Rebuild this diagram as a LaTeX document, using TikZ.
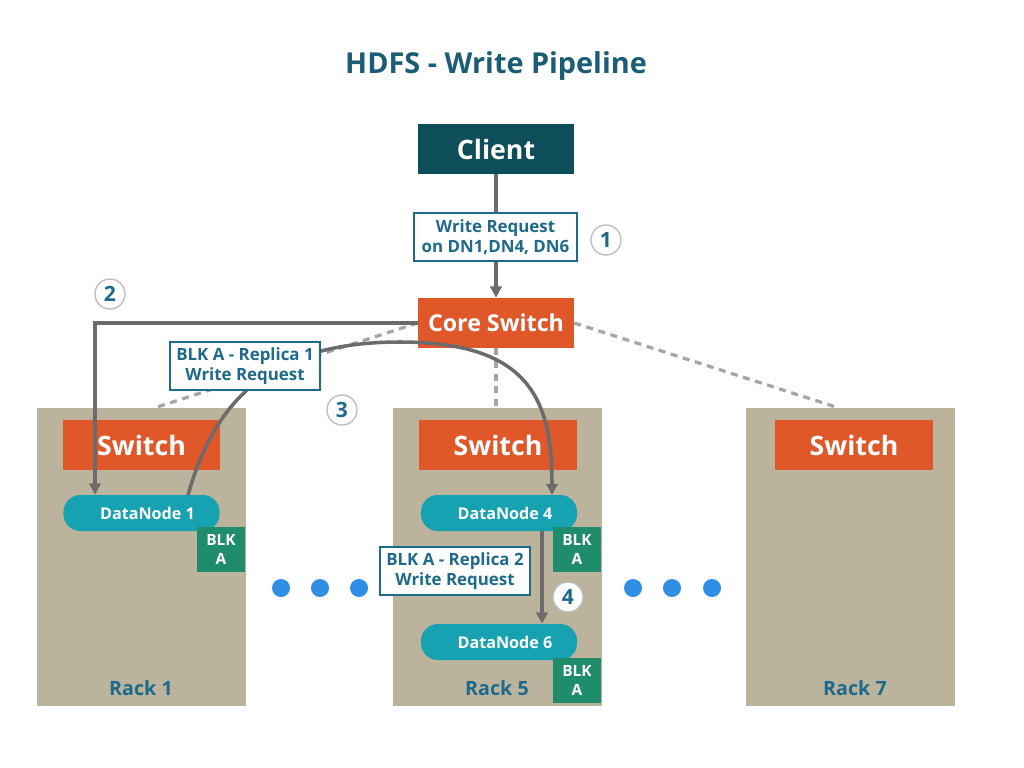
\documentclass[tikz,border=0pt]{standalone}
\usepackage{fontspec}
\setmainfont{Open Sans}
\usetikzlibrary{arrows.meta,calc}
\definecolor{clientc}{HTML}{0E4D5A}
\definecolor{orangec}{HTML}{E0582A}
\definecolor{rackc}{HTML}{BCB39C}
\definecolor{dnc}{HTML}{17A2B2}
\definecolor{blkc}{HTML}{1F8C6B}
\definecolor{labc}{HTML}{1D6A8C}
\definecolor{titlec}{HTML}{1B5D74}
\definecolor{dotc}{HTML}{2F8EE5}
\definecolor{arrc}{HTML}{6B6B6B}
\definecolor{dashc}{HTML}{A5A5A5}
\tikzset{
  boxdark/.style={fill=clientc, text=white, font=\bfseries\fontsize{19}{22}\selectfont, minimum width=3.9cm, minimum height=1.25cm, inner sep=0pt},
  orangebox/.style={fill=orangec, text=white, font=\bfseries\fontsize{19}{22}\selectfont, minimum width=3.925cm, minimum height=1.25cm, inner sep=0pt},
  rackbox/.style={fill=rackc, minimum width=5.225cm, minimum height=7.45cm, inner sep=0pt},
  racklabel/.style={text=labc, font=\bfseries\fontsize{14}{16}\selectfont},
  dnbox/.style={fill=dnc, text=white, rounded corners=0.42cm, font=\bfseries\fontsize{11.5}{13}\selectfont, minimum width=3.9cm, minimum height=0.9cm, inner sep=0pt},
  blkbox/.style={fill=blkc, text=white, align=center, font=\bfseries\fontsize{11}{13.5}\selectfont, minimum width=1.2cm, minimum height=1.125cm, inner sep=0pt},
  reqbox/.style={fill=white, draw=labc, line width=1.3pt, text=labc, align=center, font=\bfseries\fontsize{12}{14.5}\selectfont, minimum height=1.2cm, inner sep=1pt},
  stepnum/.style={circle, fill=white, draw=black!25, line width=1pt, text=labc, font=\bfseries\fontsize{15}{17}\selectfont, minimum size=0.75cm, inner sep=0pt},
  flow/.style={draw=arrc, line width=2.5pt, -{Triangle[length=8pt,width=8pt]}},
  link/.style={draw=dashc, line width=2.3pt, dash pattern=on 5pt off 4pt},
  bluedot/.style={circle, fill=dotc, minimum size=0.45cm, inner sep=0pt}
}
\begin{document}
\begin{tikzpicture}[x=0.025cm, y=-0.025cm]
\useasboundingbox[fill=white] (0,0) rectangle (1024,768);
% title
\node[text=titlec, font=\bfseries\fontsize{20.5}{24}\selectfont] (title) at (496,66) {HDFS - Write Pipeline};
% racks
\node[rackbox] (rack1) at (141.5,557) {};
\node[rackbox] (rack5) at (497.5,557) {};
\node[rackbox] (rack7) at (850.5,557) {};
\node[racklabel] (r1l) at (141,688) {Rack 1};
\node[racklabel] (r5l) at (497,688) {Rack 5};
\node[racklabel] (r7l) at (855,688) {Rack 7};
% core
\node[boxdark] (client) at (496,149) {Client};
\node[orangebox, minimum width=3.9cm, font=\bfseries\fontsize{16.5}{20}\selectfont] (core) at (496,323) {Core Switch};
% switches
\node[orangebox] (sw1) at (141.5,445) {Switch};
\node[orangebox] (sw5) at (498,445) {Switch};
\node[orangebox] (sw7) at (854,445) {Switch};
% dashed links
\draw[link] (core.west) -- (rack1.north -| 155,0);
\draw[link] (core.south) -- (rack5.north -| core.south);
\draw[link] (core.east) -- (rack7.north -| 838,0);
% datanodes
\node[dnbox] (dn1) at (141.5,513) {\hspace*{0.3cm}DataNode 1};
\node[dnbox] (dn4) at (499,513) {\hspace*{0.3cm}DataNode 4};
\node[dnbox] (dn6) at (499,642) {\hspace*{0.3cm}DataNode 6};
\node[blkbox] (b1) at (221,549.5) {BLK\\A};
\node[blkbox] (b4) at (577,549.5) {BLK\\A};
\node[blkbox] (b6) at (577,680) {BLK\\A};
% flows
\draw[flow] (client.south) -- (core.north);
\node[reqbox, minimum width=4.075cm] (req) at (495.5,237) {Write Request\\on DN1,DN4, DN6};
\node[stepnum] (s1) at (606,240) {1};
\coordinate (c2) at (95,0);
\draw[flow] (core.west) -| (dn1.north -| c2);
\node[stepnum] (s2) at (110,294) {2};
\coordinate (d1top) at (188,495);
\coordinate (d4top) at (552,495);
\draw[flow] (d1top) .. controls (215,400) and (270,342) .. (400,342) .. controls (530,342) and (552,400) .. (d4top);
\node[reqbox, minimum width=3.75cm] (rep1) at (245,366) {BLK A - Replica 1\\Write Request};
\node[stepnum] (s3) at (342,410) {3};
\coordinate (c4) at (542,0);
\draw[flow] (dn4.south -| c4) -- (dn6.north -| c4);
\node[reqbox, minimum width=3.75cm] (rep2) at (455,571) {BLK A - Replica 2\\Write Request};
\node[stepnum] (s4) at (568,597) {4};
% dots
\node[bluedot] (dl1) at (281,588) {};
\node[bluedot] (dl2) at (320,588) {};
\node[bluedot] (dl3) at (359,588) {};
\node[bluedot] (dr1) at (633,588) {};
\node[bluedot] (dr2) at (672,588) {};
\node[bluedot] (dr3) at (712,588) {};
\end{tikzpicture}
\end{document}
